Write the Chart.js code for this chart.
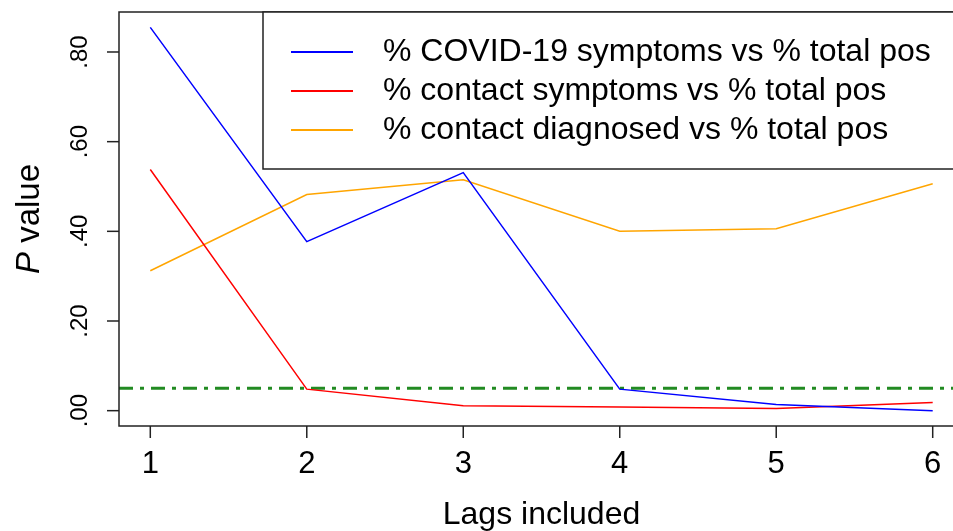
<!DOCTYPE html>
<html>
<head>
<meta charset="utf-8">
<script src="https://cdn.jsdelivr.net/npm/chart.js@4"></script>
<style>
  html, body { margin: 0; padding: 0; background: #fff; overflow: hidden; }
  #wrap { width: 953px; height: 531px; overflow: hidden; }
</style>
</head>
<body>
<div id="wrap"><canvas id="grafico" width="980" height="531"></canvas></div>
<script>
// lags on the x axis
var lags = [1, 2, 3, 4, 5, 6];
// p values
var covidSymptoms = [0.855, 0.377, 0.531, 0.048, 0.014, 0.0];
var contactSymptoms = [0.538, 0.048, 0.011, 0.008, 0.005, 0.018];
var contactDiagnosed = [0.312, 0.482, 0.515, 0.400, 0.406, 0.506];
var limite = 0.05;
var yTicks = [0, 0.2, 0.4, 0.6, 0.8];
var yTickLabels = [".00", ".20", ".40", ".60", ".80"];
var xTickLabels = ["1", "2", "3", "4", "5", "6"];
var legendas = [
    "% COVID-19 symptoms vs % total pos",
    "% contact symptoms vs % total pos",
    "% contact diagnosed vs % total pos"
];
var cores = ["#0000FF", "#FF0000", "#FFA500"];

function pontos(valores) {
    return lags.map(function (l, i) { return { x: l, y: valores[i] }; });
}

var FONTE = "'Liberation Sans', Arial, Helvetica, sans-serif";

// draws the R-style box, axes, titles and legend
var eixosR = {
    id: "eixosR",
    afterDraw: function (chart) {
        var ctx = chart.ctx;
        var a = chart.chartArea;
        var sx = chart.scales.x, sy = chart.scales.y;
        ctx.save();
        ctx.strokeStyle = "#222";
        ctx.lineWidth = 1.5;
        ctx.strokeRect(a.left, a.top, a.right - a.left, a.bottom - a.top);

        ctx.fillStyle = "#000";
        // y ticks
        ctx.font = "24px " + FONTE;
        yTicks.forEach(function (v, i) {
            var py = sy.getPixelForValue(v);
            ctx.beginPath();
            ctx.moveTo(a.left, py);
            ctx.lineTo(a.left - 12, py);
            ctx.stroke();
            ctx.save();
            ctx.translate(80, py);
            ctx.rotate(-Math.PI / 2);
            ctx.textAlign = "center";
            ctx.textBaseline = "middle";
            ctx.fillText(yTickLabels[i], 0, 0);
            ctx.restore();
        });
        // x ticks
        ctx.font = "31px " + FONTE;
        lags.forEach(function (l, i) {
            var px = sx.getPixelForValue(l);
            ctx.beginPath();
            ctx.moveTo(px, a.bottom);
            ctx.lineTo(px, a.bottom + 12);
            ctx.stroke();
            ctx.textAlign = "center";
            ctx.textBaseline = "middle";
            ctx.fillText(xTickLabels[i], px, 464);
        });

        // titles
        ctx.font = "32px " + FONTE;
        ctx.textAlign = "center";
        ctx.textBaseline = "middle";
        ctx.fillText("Lags included", (a.left + a.right) / 2, 515);

        ctx.save();
        ctx.translate(30, (a.top + a.bottom) / 2);
        ctx.rotate(-Math.PI / 2);
        ctx.font = "italic 33px " + FONTE;
        var wP = ctx.measureText("P").width;
        ctx.font = "33px " + FONTE;
        var wV = ctx.measureText(" value").width;
        var x0 = -(wP + wV) / 2;
        ctx.textAlign = "left";
        ctx.font = "italic 33px " + FONTE;
        ctx.fillText("P", x0, 0);
        ctx.font = "33px " + FONTE;
        ctx.fillText(" value", x0 + wP, 0);
        ctx.restore();

        // legend box
        ctx.fillStyle = "#fff";
        ctx.fillRect(263, a.top, a.right - 263, 169 - a.top);
        ctx.strokeRect(263, a.top, a.right - 263 + 20, 169 - a.top);
        ctx.font = "32px " + FONTE;
        ctx.textAlign = "left";
        var linhas = [52, 91, 130];
        legendas.forEach(function (t, i) {
            ctx.strokeStyle = cores[i];
            ctx.lineWidth = 2;
            ctx.beginPath();
            ctx.moveTo(291, linhas[i]);
            ctx.lineTo(353, linhas[i]);
            ctx.stroke();
            ctx.fillStyle = "#000";
            ctx.fillText(t, 383, linhas[i]);
        });
        ctx.restore();
    }
};

function gerarGrafico() {
    var ctx = document.getElementById("grafico").getContext("2d");
    var serieBase = function (label, valores, cor) {
        return {
            label: label,
            data: pontos(valores),
            borderColor: cor,
            backgroundColor: "transparent",
            borderWidth: 1.5,
            pointRadius: 0,
            tension: 0
        };
    };
    new Chart(ctx, {
        type: "line",
        data: {
            datasets: [
                serieBase(legendas[0], covidSymptoms, cores[0]),
                serieBase(legendas[1], contactSymptoms, cores[1]),
                serieBase(legendas[2], contactDiagnosed, cores[2]),
                {
                    label: "p = 0.05",
                    data: [{ x: 0.8, y: limite }, { x: 6.2, y: limite }],
                    borderColor: "#228B22",
                    borderWidth: 3,
                    borderDash: [14, 7, 4, 7],
                    pointRadius: 0
                }
            ]
        },
        options: {
            responsive: false,
            animation: false,
            layout: { padding: { left: 119, top: 12, right: 16, bottom: 105 } },
            plugins: { legend: { display: false }, tooltip: { enabled: false } },
            scales: {
                x: { type: "linear", min: 0.8, max: 6.2, display: false },
                y: { min: -0.0342, max: 0.8892, display: false }
            }
        },
        plugins: [eixosR]
    });
}

gerarGrafico();
</script>
</body>
</html>
